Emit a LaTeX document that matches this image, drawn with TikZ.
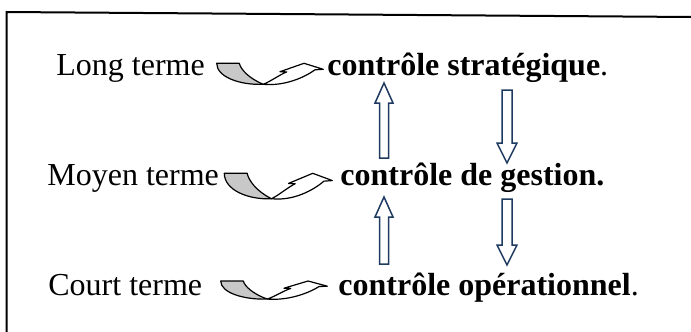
\documentclass[tikz,border=0pt]{standalone}
\usepackage{fontspec}
\setmainfont{Liberation Serif}
\definecolor{navy}{HTML}{1F3A60}
\definecolor{bandgray}{HTML}{C8C8C8}
\tikzset{
  lbl/.style={anchor=base west, inner sep=0pt, font=\fontsize{16}{19}\selectfont},
  blockarrow/.style={draw=navy, line width=0.75pt, fill=white, line join=miter},
  curveline/.style={draw=black, line width=0.6pt, line join=round},
  pics/curvedarrow/.style={code={
    % grey band falling from the flat top edge
    \path[curveline, fill=bandgray] (0,0) -- (22.6,0)
      .. controls (24,6) and (32,15) .. (46.6,21)
      .. controls (24,22) and (0,14) .. cycle;
    % white rising part with its head
    \path[curveline, fill=white] (46.6,21)
      .. controls (54,18) and (62,12) .. (70,8.6)
      -- (63.3,8.4) -- (87.3,0) -- (106.6,6) -- (98.3,6.5)
      .. controls (88,14) and (68,23) .. (46.6,21) -- cycle;
  }}
}
\newcommand{\uparrowshape}[3]{% x, tip y, bottom y
  \path[blockarrow] (#1,#2) -- (#1+9,#2+20) -- (#1+4.5,#2+20) -- (#1+4.5,#3)
    -- (#1-4.5,#3) -- (#1-4.5,#2+20) -- (#1-9,#2+20) -- cycle;}
\newcommand{\downarrowshape}[3]{% x, top y, tip y
  \path[blockarrow] (#1-5,#2) -- (#1+5,#2) -- (#1+5,#3-20) -- (#1+10,#3-20)
    -- (#1,#3) -- (#1-10,#3-20) -- (#1-5,#3-20) -- cycle;}
\begin{document}
\begin{tikzpicture}[x=0.5pt, y=-0.5pt]
\useasboundingbox (0,0) rectangle (691,332);

% frame
\draw[line width=1pt] (6.5,332) -- (6.5,12) -- (691,17);

% row labels
\node[lbl] (lt) at (56,75) {Long terme};
\node[lbl] (mt) at (47,185) {Moyen terme};
\node[lbl] (ct) at (48,295) {Court terme};

\node[lbl] (cs) at (327,75) {\textbf{contrôle stratégique}.};
\node[lbl] (cg) at (340,185) {\textbf{contrôle de gestion.}};
\node[lbl] (co) at (338,295) {\textbf{contrôle opérationnel}.};

% curved arrows between term and control level
\pic at (216.7,63.3) {curvedarrow};
\pic[xscale=1.013, yscale=1.21] at (224.3,173.3) {curvedarrow};
\pic[yscale=0.86] at (220.7,281) {curvedarrow};

% upward block arrows
\uparrowshape{384}{83}{158}
\uparrowshape{384}{197}{264}
% downward block arrows
\downarrowshape{507}{90}{163}
\downarrowshape{507}{199}{265}
\end{tikzpicture}
\end{document}
